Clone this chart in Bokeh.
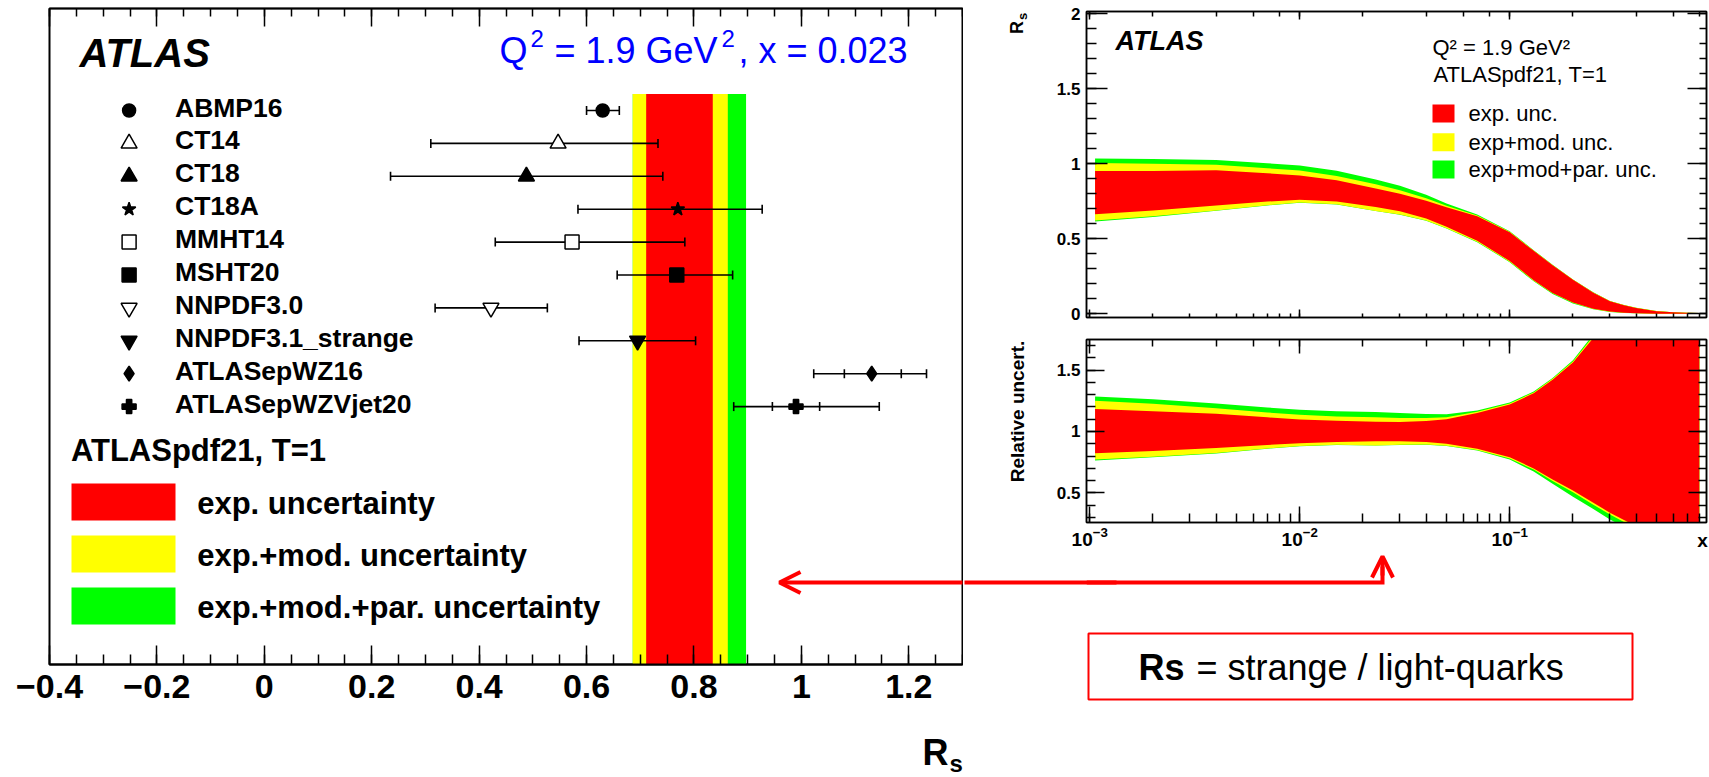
import math
from bokeh.plotting import figure
from bokeh.layouts import row, column
from bokeh.models import (Range1d, FixedTicker, LinearAxis, LogAxis, LogTicker,
                          Label, CustomJSTickFormatter, Arrow, OpenHead)
from bokeh.embed import file_html
from bokeh.resources import INLINE
from bokeh.core.properties import value

FONT = "Liberation Sans"
RED, YELLOW, GREEN, BLUE = "#ff0000", "#ffff00", "#00ff00", "#0000ff"

# ---------------- left panel data ----------------
pdf_names = ["ABMP16", "CT14", "CT18", "CT18A", "MMHT14", "MSHT20", "NNPDF3.0",
             "NNPDF3.1_strange", "ATLASepWZ16", "ATLASepWZVjet20"]
pdf_rs = [0.630, 0.547, 0.488, 0.770, 0.573, 0.768, 0.422, 0.695, 1.131, 0.990]
pdf_lo = [0.600, 0.310, 0.235, 0.584, 0.430, 0.657, 0.318, 0.586, 1.023, 0.874]
pdf_hi = [0.661, 0.733, 0.742, 0.927, 0.783, 0.872, 0.527, 0.803, 1.233, 1.145]
pdf_marker = ["circle", "triangle", "triangle", "star", "square", "square",
              "inverted_triangle", "inverted_triangle", "diamond", "plus"]
pdf_open = [False, True, False, False, True, False, True, False, False, False]
exp_names = ["ATLASepWZ16", "ATLASepWZVjet20"]
exp_lo = [1.080, 0.946]
exp_hi = [1.186, 1.034]
band_names = ["exp. uncertainty", "exp.+mod. uncertainty", "exp.+mod.+par. uncertainty"]
band_lo = [0.711, 0.686, 0.686]
band_hi = [0.835, 0.863, 0.897]
band_colors = [RED, YELLOW, GREEN]
rs_ticks = [-0.4, -0.2, 0.0, 0.2, 0.4, 0.6, 0.8, 1.0, 1.2]
rs_tick_labels = ["\u22120.4", "\u22120.2", "0", "0.2", "0.4", "0.6", "0.8", "1", "1.2"]

# ---------------- right panels data ----------------
x_vals = [0.00106, 0.002, 0.004, 0.007, 0.01, 0.015, 0.023, 0.03, 0.04, 0.05, 0.07, 0.1,
          0.13, 0.16, 0.2, 0.25, 0.3, 0.35, 0.4, 0.5, 0.6, 0.7, 0.8]
rs_central = [0.805, 0.817, 0.835, 0.840, 0.840, 0.818, 0.773, 0.742, 0.694, 0.645, 0.565, 0.445,
              0.320, 0.228, 0.145, 0.080, 0.042, 0.025, 0.015, 0.005, 0.002, 0.001, 0.0005]
rel_red_hi = [1.182, 1.165, 1.145, 1.115, 1.098, 1.088, 1.080, 1.078, 1.085, 1.100, 1.150, 1.220,
              1.310, 1.420, 1.560, 1.760, 2.000, 2.300, 2.600, 3.500, 5.0, 7.0, 9.0]
rel_yel_hi = [1.249, 1.225, 1.190, 1.155, 1.136, 1.122, 1.116, 1.110, 1.110, 1.115, 1.160, 1.228,
              1.318, 1.428, 1.570, 1.775, 2.020, 2.320, 2.620, 3.520, 5.02, 7.02, 9.02]
rel_grn_hi = [1.285, 1.262, 1.228, 1.195, 1.176, 1.165, 1.158, 1.150, 1.142, 1.140, 1.170, 1.235,
              1.325, 1.435, 1.580, 1.790, 2.040, 2.340, 2.640, 3.540, 5.04, 7.04, 9.04]
rel_red_lo = [0.824, 0.842, 0.865, 0.890, 0.905, 0.915, 0.920, 0.921, 0.915, 0.900, 0.860, 0.790,
              0.700, 0.610, 0.520, 0.420, 0.340, 0.280, 0.230, 0.140, 0.080, 0.040, 0.020]
rel_yel_lo = [0.772, 0.795, 0.825, 0.862, 0.883, 0.893, 0.887, 0.892, 0.895, 0.885, 0.850, 0.780,
              0.690, 0.598, 0.505, 0.405, 0.325, 0.265, 0.215, 0.125, 0.070, 0.030, 0.015]
rel_grn_lo = [0.764, 0.790, 0.822, 0.860, 0.881, 0.891, 0.886, 0.890, 0.893, 0.882, 0.845, 0.772,
              0.675, 0.575, 0.470, 0.370, 0.285, 0.225, 0.180, 0.100, 0.050, 0.020, 0.010]
top_yticks = [0.0, 0.5, 1.0, 1.5, 2.0]
top_ytick_labels = ["0", "0.5", "1", "1.5", "2"]
bot_yticks = [0.5, 1.0, 1.5]
bot_ytick_labels = ["0.5", "1", "1.5"]
band_short = ["exp. unc.", "exp+mod. unc.", "exp+mod+par. unc."]

# ---------------- layout constants (canvas px) ----------------
W, H = 1709, 777
LW = 963
RW = W - LW
L_FL, L_FR, L_FT, L_FB = 49, 962, 8, 664
ROW0, ROWPX = 110.0, 32.9
N = len(pdf_names)
XL0, XL1 = -0.4, 1.3
y_top = (N - 1) + (ROW0 - L_FT) / ROWPX
y_bot = (N - 1) - (L_FB - ROW0) / ROWPX


def lx(px):
    return XL0 + (px - L_FL) * (XL1 - XL0) / (L_FR - L_FL)


def ly(py):
    return (N - 1) - (py - ROW0) / ROWPX


R_FL, R_FR = 1086, 1706
XMIN, XMAX = 0.000965, 0.865
T_FT, T_FB, T_Y0, T_Y1 = 11, 317, -0.025, 2.015
B_FT, B_FB, B_Y0, B_Y1 = 339, 522, 0.26, 1.748
TOP_H, BOT_H = 330, 222
ANN_Y0 = TOP_H + BOT_H
ARROW_Y = 582


def rx(px):
    a, b = math.log10(XMIN), math.log10(XMAX)
    return 10 ** (a + (px - R_FL) * (b - a) / (R_FR - R_FL))


def ty(py):
    return T_Y0 + (T_FB - py) * (T_Y1 - T_Y0) / (T_FB - T_FT)


def by(py):
    return B_Y0 + (B_FB - py) * (B_Y1 - B_Y0) / (B_FB - B_FT)


def style_axis(ax, major_in, minor_in, labels=True, size="30px", standoff=8):
    ax.major_tick_in = major_in
    ax.major_tick_out = 0
    ax.minor_tick_in = minor_in
    ax.minor_tick_out = 0
    ax.major_tick_line_color = "black"
    ax.minor_tick_line_color = "black"
    ax.major_tick_line_width = 1.5
    ax.minor_tick_line_width = 1.5
    ax.axis_line_color = "black"
    ax.axis_line_width = 1.5
    ax.major_label_text_font = FONT
    ax.major_label_text_font_style = "bold"
    ax.major_label_text_color = "black"
    ax.major_label_text_font_size = size
    ax.major_label_standoff = standoff
    if not labels:
        ax.formatter = CustomJSTickFormatter(code="return ''")
        ax.major_label_text_font_size = "1px"
        ax.major_label_standoff = 0


def mk_label(x, y, text, size, style="normal", color="black", align="left", angle=0.0):
    return Label(x=x, y=y, text=text, text_font=FONT, text_font_size=size,
                 text_font_style=style, text_color=color, text_align=align,
                 text_baseline="middle", angle=angle)


def lbl(p, *args, **kw):
    p.add_layout(mk_label(*args, **kw))


def outer_lbl(p, side, *args, **kw):
    # labels outside the plot frame live in a side panel so they are not clipped
    p.add_layout(mk_label(*args, **kw), side)


# ====================== LEFT PANEL ======================
p1 = figure(width=LW, height=H, x_range=Range1d(XL0, XL1), y_range=Range1d(y_bot, y_top),
            output_backend="svg", toolbar_location=None, y_axis_location=None,
            min_border_left=L_FL, min_border_right=LW - L_FR, min_border_top=L_FT,
            min_border_bottom=H - L_FB)
p1.xgrid.visible = False
p1.ygrid.visible = False
p1.outline_line_color = "black"
p1.outline_line_width = 2

minor_l = [round(XL0 + 0.05 * i, 2) for i in range(35)]
xa = p1.xaxis[0]
xa.ticker = FixedTicker(ticks=rs_ticks, minor_ticks=minor_l)
xa.major_label_overrides = dict(zip(rs_ticks, rs_tick_labels))
style_axis(xa, 19, 10, True, "34px", 10)
xa.axis_line_width = 2
ax_top = LinearAxis(ticker=FixedTicker(ticks=rs_ticks, minor_ticks=minor_l))
style_axis(ax_top, 18, 8, labels=False)
p1.add_layout(ax_top, "above")

band_top = (N - 1) + 0.5
for lo, hi, col in reversed(list(zip(band_lo, band_hi, band_colors))):
    p1.quad(left=[lo], right=[hi], bottom=[y_bot], top=[band_top], color=col, line_color=None)

ys = [N - 1 - k for k in range(N)]
p1.segment(x0=pdf_lo, y0=ys, x1=pdf_hi, y1=ys, line_color="black", line_width=1.6)
p1.scatter(x=pdf_lo + pdf_hi, y=ys + ys, marker="dash", size=9, angle=math.pi / 2,
           line_color="black", line_width=1.6)
ys_exp = [ys[pdf_names.index(nm)] for nm in exp_names]
p1.scatter(x=exp_lo + exp_hi, y=ys_exp + ys_exp, marker="dash", size=9, angle=math.pi / 2,
           line_color="black", line_width=1.6)

msize = {"circle": 13, "triangle": 16, "star": 14, "square": 14,
         "inverted_triangle": 16, "diamond": 15, "plus": 14}
leg_mx = lx(128.6)
for k in range(N):
    fill = "white" if pdf_open[k] else "black"
    for xx in (pdf_rs[k], leg_mx):
        p1.scatter(x=[xx], y=[ys[k]], marker=pdf_marker[k], size=msize[pdf_marker[k]],
                   fill_color=fill, line_color="black", line_width=1.5)

p1.text(x=[lx(174.5)] * N, y=ys, text=pdf_names, text_font=value(FONT), text_font_size="26.5px",
        text_font_style="bold", text_baseline="middle", text_align="left", y_offset=-3,
        text_color="black")

lbl(p1, lx(79), ly(52), "ATLAS", "40px", "bold italic")
# blue kinematics text, with raised superscripts
lbl(p1, lx(499), ly(50), "Q", "36px", color=BLUE)
lbl(p1, lx(530), ly(38), "2", "24px", color=BLUE)
lbl(p1, lx(554), ly(50), "= 1.9 GeV", "36px", color=BLUE)
lbl(p1, lx(721), ly(38), "2", "24px", color=BLUE)
lbl(p1, lx(738), ly(50), ", x = 0.023", "36px", color=BLUE)
lbl(p1, lx(70.4), ly(450), "ATLASpdf21, T=1", "31px", "bold")

box_tops = [483, 535, 587]
for i, (nm, col) in enumerate(zip(band_names, band_colors)):
    t = box_tops[i]
    p1.quad(left=[lx(71)], right=[lx(175)], top=[ly(t)], bottom=[ly(t + 37)], color=col,
            line_color=None)
    lbl(p1, lx(196.7), ly(t + 19.5), nm, "31px", "bold")

outer_lbl(p1, "left", lx(922), ly(752), "R", "36px", "bold")
outer_lbl(p1, "left", lx(949), ly(763), "s", "24px", "bold")

# horizontal arrow (part inside the left frame)
p1.add_layout(Arrow(x_start=lx(LW + 2), y_start=ly(ARROW_Y), x_end=lx(779), y_end=ly(ARROW_Y),
                    line_color=RED, line_width=4,
                    end=OpenHead(size=21, line_color=RED, line_width=4)))


# ====================== RIGHT PANELS ======================
def right_fig(height, yrange, top, bottom):
    p = figure(width=RW, height=height, x_axis_type="log", x_range=Range1d(XMIN, XMAX),
               y_range=Range1d(*yrange), output_backend="svg", toolbar_location=None,
               min_border_left=R_FL - LW, min_border_right=W - R_FR,
               min_border_top=top, min_border_bottom=bottom)
    p.xgrid.visible = False
    p.ygrid.visible = False
    p.outline_line_color = "black"
    p.outline_line_width = 1.5
    return p


# ---- top: Rs vs x ----
p2 = right_fig(TOP_H, (T_Y0, T_Y1), T_FT, TOP_H - T_FB)
style_axis(p2.xaxis[0], 8, 4, labels=False)
at2 = LogAxis(ticker=LogTicker())
style_axis(at2, 8, 5, labels=False)
p2.add_layout(at2, "above")
minor_t = [round(0.1 * i, 1) for i in range(21)]
ya2 = p2.yaxis[0]
ya2.ticker = FixedTicker(ticks=top_yticks, minor_ticks=minor_t)
ya2.major_label_overrides = dict(zip(top_yticks, top_ytick_labels))
style_axis(ya2, 21, 10, True, "17px", 6)
ra2 = LinearAxis(ticker=FixedTicker(ticks=top_yticks, minor_ticks=minor_t))
style_axis(ra2, 19, 7, labels=False)
p2.add_layout(ra2, "right")


def scaled(rel):
    return [c * r for c, r in zip(rs_central, rel)]


p2.varea(x=x_vals, y1=scaled(rel_grn_lo), y2=scaled(rel_grn_hi), color=GREEN)
p2.varea(x=x_vals, y1=scaled(rel_yel_lo), y2=scaled(rel_yel_hi), color=YELLOW)
p2.varea(x=x_vals, y1=scaled(rel_red_lo), y2=scaled(rel_red_hi), color=RED)

lbl(p2, rx(1115), ty(40), "ATLAS", "27px", "bold italic")
lbl(p2, rx(1432), ty(47), "Q\u00b2 = 1.9 GeV\u00b2", "22px")
lbl(p2, rx(1433), ty(74), "ATLASpdf21, T=1", "22px")
leg_tops = [104, 132.7, 160]
for t, nm, col in zip(leg_tops, band_short, band_colors):
    p2.quad(left=[rx(1432)], right=[rx(1454)], top=[ty(t)], bottom=[ty(t + 18)], color=col,
            line_color=None)
    lbl(p2, rx(1468), ty(t + 9), nm, "22px")
outer_lbl(p2, "left", rx(1016), ty(27), "R", "18px", "bold", angle=math.pi / 2, align="center")
outer_lbl(p2, "left", rx(1022), ty(16), "s", "13px", "bold", angle=math.pi / 2, align="center")

# ---- bottom: relative uncertainty ----
p3 = right_fig(BOT_H, (B_Y0, B_Y1), B_FT - TOP_H, TOP_H + BOT_H - B_FB)
style_axis(p3.xaxis[0], 16, 9, True, "19px", 4)
at3 = LogAxis(ticker=LogTicker())
style_axis(at3, 14, 7, labels=False)
p3.add_layout(at3, "above")
minor_b = [round(0.3 + 0.1 * i, 1) for i in range(15)]
ya3 = p3.yaxis[0]
ya3.ticker = FixedTicker(ticks=bot_yticks, minor_ticks=minor_b)
ya3.major_label_overrides = dict(zip(bot_yticks, bot_ytick_labels))
style_axis(ya3, 18, 9, True, "17px", 6)
ra3 = LinearAxis(ticker=FixedTicker(ticks=bot_yticks, minor_ticks=minor_b))
style_axis(ra3, 18, 8, labels=False)
p3.add_layout(ra3, "right")

p3.varea(x=x_vals, y1=rel_grn_lo, y2=rel_grn_hi, color=GREEN)
p3.varea(x=x_vals, y1=rel_yel_lo, y2=rel_yel_hi, color=YELLOW)
p3.varea(x=x_vals, y1=rel_red_lo, y2=rel_red_hi, color=RED)

outer_lbl(p3, "left", rx(1017), by(411), "Relative uncert.", "19px", "bold",
          angle=math.pi / 2, align="center")
outer_lbl(p3, "left", rx(1702), by(540), "x", "19px", "bold", align="center")

# ---- annotation strip: arrow + box ----
p4 = figure(width=RW, height=H - ANN_Y0, x_range=Range1d(R_FL, R_FR),
            y_range=Range1d(H, ANN_Y0), output_backend="svg", toolbar_location=None,
            x_axis_location=None, y_axis_location=None,
            min_border_left=R_FL - LW, min_border_right=W - R_FR,
            min_border_top=0, min_border_bottom=0)
p4.xgrid.visible = False
p4.ygrid.visible = False
p4.outline_line_color = None
# the arrow shaft in the left border: drawn as one long red tick of a bare axis
shaft = LinearAxis(ticker=FixedTicker(ticks=[ARROW_Y], minor_ticks=[]))
shaft.major_tick_out = R_FL - LW - 1
shaft.major_tick_in = 30
shaft.minor_tick_in = 0
shaft.minor_tick_out = 0
shaft.major_tick_line_color = RED
shaft.major_tick_line_width = 4
shaft.axis_line_color = None
shaft.formatter = CustomJSTickFormatter(code="return ''")
shaft.major_label_text_font_size = "1px"
shaft.major_label_standoff = 0
p4.add_layout(shaft, "left")
p4.line(x=[R_FL, 1382, 1382], y=[ARROW_Y, ARROW_Y, 566], line_color=RED, line_width=4,
        line_join="miter")
p4.add_layout(Arrow(x_start=1382, y_start=575, x_end=1382, y_end=556, line_color=RED,
                    line_width=4, end=OpenHead(size=21, line_color=RED, line_width=4)))
p4.quad(left=[1088], right=[1632], top=[633], bottom=[699], fill_color=None,
        line_color=RED, line_width=2)
p4.text(x=[1138], y=[667], text=["Rs"], text_font=value(FONT), text_font_size="36px",
        text_font_style="bold", text_baseline="middle", text_color="black")
p4.text(x=[1196], y=[667], text=["= strange / light-quarks"], text_font=value(FONT),
        text_font_size="36px", text_baseline="middle", text_color="black")

layout = row(p1, column(p2, p3, p4))
open("out.html", "w").write(file_html(layout, INLINE, title="Rs"))
